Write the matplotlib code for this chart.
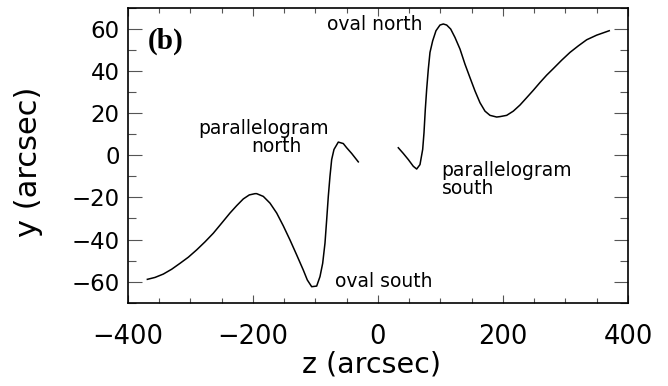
import matplotlib
matplotlib.use("Agg")
import matplotlib.pyplot as plt
import numpy as np

# left branch (parallelogram north / oval south side)
z_left = [-369, -356.8, -343.5, -330.1, -316.8, -303.5, -290.1, -276.8, -263.5, -250.1,
          -236.8, -226.1, -215.5, -205.9, -196.8, -194.1, -183.5, -172.8, -162.1, -151.5,
          -140.8, -130.1, -119.5, -113.1, -106.1, -98.1, -92.8, -88.5, -84.8, -82.1,
          -79.5, -76.8, -74.1, -70.4, -63.5, -55.5, -50.1, -42.1, -31.5]
y_left = [-58.9, -58.0, -56.4, -54.1, -51.3, -48.4, -44.9, -41.1, -37.0, -32.2,
          -27.4, -23.9, -20.7, -18.8, -18.2, -18.2, -19.5, -22.7, -27.4, -33.5,
          -40.2, -47.3, -54.5, -59.2, -62.4, -62.1, -57.6, -51.3, -41.7, -30.6,
          -19.5, -9.9, -2.0, 2.8, 6.3, 5.6, 3.6, 0.9, -3.1]

# right branch (parallelogram south / oval north side)
z_right = [32.5, 40.5, 48.5, 56.5, 61.9, 67.2, 71.5, 73.6, 75.7, 77.9,
           80.5, 83.2, 87.5, 92.8, 99.2, 104.5, 109.9, 116.3, 123.2, 131.2,
           139.2, 147.2, 155.2, 163.2, 171.2, 179.2, 189.9, 195.2, 205.9, 216.5,
           227.2, 237.9, 248.5, 259.2, 269.9, 280.5, 293.9, 307.2, 320.5, 333.9,
           349.9, 370]
y_right = [3.6, 0.9, -2.0, -5.2, -6.5, -4.4, 2.8, 10.7, 21.8, 31.4,
           40.9, 48.9, 54.4, 59.2, 61.9, 62.4, 61.9, 60.0, 56.0, 50.5,
           43.3, 36.9, 30.6, 25.0, 21.0, 19.0, 18.2, 18.4, 19.0, 21.0,
           23.9, 27.4, 30.9, 34.6, 38.1, 41.2, 45.2, 48.9, 52.0, 54.9,
           57.1, 59.2]

labels = ["oval north", "parallelogram", "north", "parallelogram", "south", "oval south"]
label_z = [-5, -288, -202, 102, 102, -69]
label_y = [59.5, 10.1, 1.5, -9.6, -18.2, -62.4]
label_ha = ["center", "left", "left", "left", "left", "left"]

fig = plt.figure(figsize=(6.68, 3.86), dpi=100)
ax = fig.add_axes([0.1916, 0.2158, 0.7485, 0.7635])

ax.plot(z_left, y_left, color="black", lw=1.1)
ax.plot(z_right, y_right, color="black", lw=1.1)

for s, zz, yy, ha in zip(labels, label_z, label_y, label_ha):
    ax.text(zz, yy, s, ha=ha, va="baseline", fontsize=13.5, color="black")

ax.text(-369, 54, "(b)", family="Liberation Serif", fontsize=21, fontweight="bold",
        ha="left", va="center")

ax.set_xlim(-400, 400)
ax.set_ylim(-70, 70)
ax.set_xticks([-400, -200, 0, 200, 400])
ax.set_xticks(np.arange(-400, 401, 50), minor=True)
ax.set_yticks([-60, -40, -20, 0, 20, 40, 60])
ax.set_yticks(np.arange(-70, 71, 10), minor=True)

ax.tick_params(axis="x", which="major", direction="in", top=True, length=6, width=0.8,
               pad=15, labelsize=18.5, color="#555555")
ax.tick_params(axis="x", which="minor", direction="in", top=True, length=3.5, width=0.8,
               color="#555555")
ax.tick_params(axis="y", which="major", direction="in", right=True, length=10, width=0.8,
               pad=6, labelsize=16.5, color="#555555")
ax.tick_params(axis="y", which="minor", direction="in", right=True, length=5.5, width=0.8,
               color="#555555")

for sp in ax.spines.values():
    sp.set_linewidth(1.2)

ax.set_xlabel("z (arcsec)", fontsize=20.5, va="center")
ax.set_ylabel("y (arcsec)", fontsize=22, va="center")
ax.xaxis.set_label_coords(0.488, -0.211)
ax.yaxis.set_label_coords(-0.198, 0.478)

fig.savefig("out.png", dpi=100)
